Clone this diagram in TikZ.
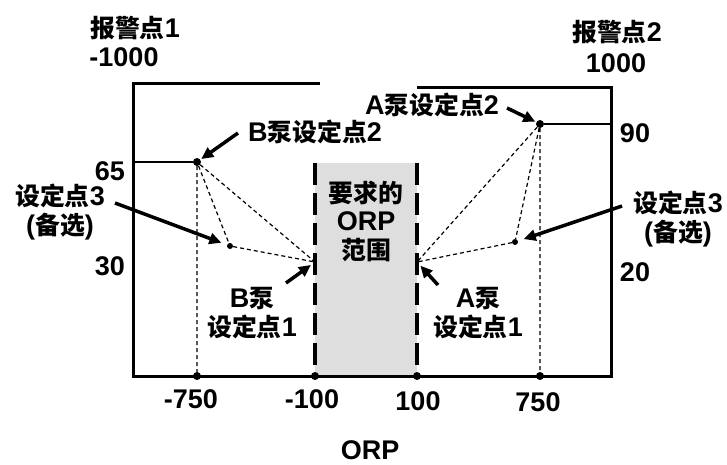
\documentclass[tikz,border=0pt]{standalone}
\usepackage{fontspec}
\setmainfont{Liberation Sans}
\newfontfamily\cjk{Noto Sans CJK SC}[Scale=0.92]
\usetikzlibrary{arrows.meta}

\tikzset{
  lbl/.style={font=\bfseries\fontsize{27}{28.5}\selectfont, inner sep=0pt, align=center},
  frame/.style={line width=3pt},
  guide/.style={line width=1.2pt, dash pattern=on 4pt off 3pt},
  bound/.style={line width=3.5pt, dash pattern=on 22pt off 8pt},
  pointer/.style={line width=3.5pt, -{Triangle[length=12pt,width=11pt]}},
  dot/.style={circle, fill, inner sep=0pt, minimum size=8pt},
  smalldot/.style={circle, fill, inner sep=0pt, minimum size=6pt},
}

\begin{document}
\begin{tikzpicture}[x=1pt,y=-1pt]
  \useasboundingbox (0,0) rectangle (727,464);

  % required ORP band
  \fill[black!13] (315,163) rectangle (417,376);
  \coordinate (bl top) at (315,163);
  \coordinate (bl bot) at (315,376);
  \coordinate (br top) at (417,163);
  \coordinate (br bot) at (417,376);
  \draw[bound] (bl top) -- (bl bot);
  \draw[bound] (br top) -- (br bot);

  % frame
  \draw[frame] (320,83) -- (133,83) -- (133,376) -- (611,376) -- (611,87) -- (417,87);

  % set points
  \node[dot] (B2) at (197,162) {};
  \node[dot] (A2) at (540,124) {};
  \node[smalldot] (B3) at (230,246) {};
  \node[smalldot] (A3) at (515,242) {};
  \coordinate (B1) at (315,262);
  \coordinate (A1) at (417,262);
  \node[dot] (x750m) at (197,376) {};
  \node[dot] (x100m) at (315,376) {};
  \node[dot] (x100) at (417,376) {};
  \node[dot] (x750) at (540,376) {};
  \coordinate (y65) at (133,162);
  \coordinate (y90) at (611,124);

  \draw[line width=1.2pt] (y65) -- (B2);
  \draw[line width=1.2pt] (A2) -- (y90);
  \draw[guide] (B2) -- (B1) (B2) -- (B3) -- (B1) (B2) -- (x750m);
  \draw[guide] (A2) -- (A1) (A2) -- (A3) -- (A1) (A2) -- (x750);

  % labels
  \node[lbl] (al1) at (135,28) {{\cjk 报警点}1};
  \node[lbl] (al1v) at (124,57) {-1000};
  \node[lbl] (al2) at (617,32) {{\cjk 报警点}2};
  \node[lbl] (al2v) at (616,63) {1000};

  \node[lbl] (v65) at (110,171) {65};
  \node[lbl] (v30) at (110,266) {30};
  \node[lbl] (v90) at (635,133) {90};
  \node[lbl] (v20) at (635,272) {20};

  \node[lbl] (lB2) at (315,132) {B{\cjk 泵设定点}2};
  \node[lbl] (lA2) at (432,105) {A{\cjk 泵设定点}2};
  \node[lbl] (lB3) at (60,212) {{\cjk 设定点}3\\({\cjk 备选})};
  \node[lbl] (lA3) at (678,219) {{\cjk 设定点}3\\({\cjk 备选})};
  \node[lbl] (lB1) at (252,313) {B{\cjk 泵}\\{\cjk 设定点}1};
  \node[lbl] (lA1) at (478,313) {A{\cjk 泵}\\{\cjk 设定点}1};
  \node[lbl] (band) at (366,221) {{\cjk 要求的}\\ORP\\{\cjk 范围}};

  \node[lbl] (t750m) at (191,399) {-750};
  \node[lbl] (t100m) at (312,399) {-100};
  \node[lbl] (t100) at (418,401) {100};
  \node[lbl] (t750) at (538,402) {750};
  \node[lbl] (axis) at (370,450) {ORP};

  % pointers
  \coordinate (pB2) at (238,133);
  \coordinate (pA2) at (507,108);
  \coordinate (pB3) at (115,203);
  \coordinate (pA3) at (622,206);
  \coordinate (pB1) at (286,283);
  \coordinate (pA1) at (438,285);
  \draw[pointer, shorten >=1pt] (pB2) -- (B2);
  \draw[pointer, shorten >=1pt] (pA2) -- (A2);
  \draw[pointer, shorten >=6pt] (pB3) -- (B3);
  \draw[pointer, shorten >=6pt] (pA3) -- (A3);
  \draw[pointer, shorten >=5pt] (pB1) -- (B1);
  \draw[pointer, shorten >=5pt] (pA1) -- (A1);
\end{tikzpicture}
\end{document}
